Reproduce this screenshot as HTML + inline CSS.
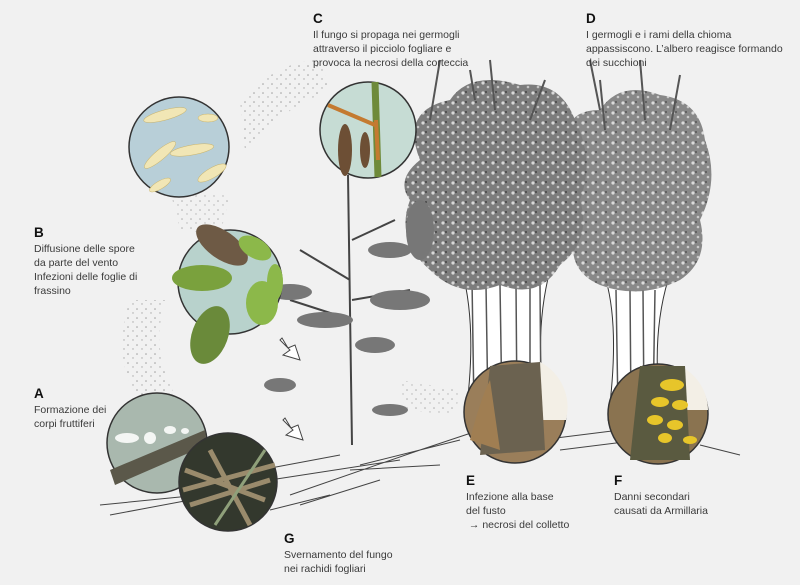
<!DOCTYPE html>
<html><head><meta charset="utf-8"><style>
body{margin:0;background:#f1f1f1;}
.w{position:relative;width:800px;height:585px;overflow:hidden;background:#f1f1f1;font-family:"Liberation Sans",sans-serif;color:#3a3a3a}
.t{position:absolute;font-size:10.5px;line-height:14px}
.t b{display:block;font-size:13.5px;color:#111;line-height:18px}
svg{position:absolute;left:0;top:0}
</style></head><body><div class="w">
<svg width="800" height="585" viewBox="0 0 800 585">
<defs>
<pattern id="dots" width="9" height="9" patternUnits="userSpaceOnUse"><circle cx="2" cy="3" r="0.8" fill="#666"/><circle cx="7" cy="7" r="0.7" fill="#777"/></pattern>
<pattern id="leafy" width="10" height="10" patternUnits="userSpaceOnUse"><rect width="10" height="10" fill="#7c7c7c"/><circle cx="3" cy="3" r="1.6" fill="#d8d8d8"/><circle cx="8" cy="7" r="1.3" fill="#c4c4c4"/><circle cx="6" cy="2" r="1" fill="#444"/></pattern>
</defs>
<path d="M240 100 Q280 60 320 60 L330 90 Q280 110 245 150Z" fill="url(#dots)" opacity=".6"/>
<path d="M130 300 Q110 360 140 400 L175 395 Q150 350 165 300Z" fill="url(#dots)" opacity=".6"/>
<path d="M170 190 L230 195 L220 235 L180 230Z" fill="url(#dots)" opacity=".5"/>
<path d="M400 380 L460 390 L455 415 L405 410Z" fill="url(#dots)" opacity=".5"/>
<g stroke="#444" stroke-width="1" fill="none">
<path d="M100 505 L200 495 M110 515 L190 500 M260 470 L340 455 M270 480 L400 460 M290 495 L420 450 M300 505 L380 480 M360 465 L460 440 M420 450 L480 430 M540 440 L620 430 M560 450 L640 440 M700 445 L740 455 M270 510 L330 495 M350 470 L440 465"/>
</g>
<!-- tree 1 -->
<path d="M465 420 Q478 330 462 270 L550 270 Q532 340 548 420Z" fill="#fff" stroke="#333"/>
<path d="M472 280 L474 410 M486 285 L488 412 M500 285 L502 410 M516 285 L517 410 M530 285 L530 412 M540 285 L541 410" stroke="#555" stroke-width="1.5"/>
<path d="M420 160 Q400 110 450 100 Q470 70 520 85 Q560 80 575 120 Q595 160 580 200 Q592 240 560 265 Q540 300 500 285 Q460 300 430 270 Q395 240 410 200 Q395 180 420 160Z" fill="url(#leafy)"/>
<path d="M430 120 L440 60 M490 60 L495 110 M545 80 L530 120 M470 70 L475 100" stroke="#555" stroke-width="2"/>
<!-- tree 2 -->
<path d="M608 420 Q620 330 606 280 L668 280 Q650 340 662 420Z" fill="#fff" stroke="#333"/>
<path d="M616 290 L618 410 M630 290 L631 412 M643 290 L644 410 M655 290 L653 412" stroke="#555" stroke-width="1.5"/>
<path d="M570 150 Q560 110 600 110 Q620 80 660 95 Q700 100 705 140 Q720 180 700 220 Q710 260 680 280 Q640 300 600 285 Q565 270 575 230 Q555 190 570 150Z" fill="url(#leafy)" opacity=".9"/>
<path d="M600 80 L605 130 M640 60 L645 120 M680 75 L670 130 M590 60 L600 110" stroke="#555" stroke-width="2"/>
<!-- sapling -->
<path d="M348 175 L352 445 M350 280 L300 250 M352 320 L290 300 M352 240 L395 220 M352 300 L410 290" stroke="#444" stroke-width="2" fill="none"/>
<g fill="#777">
<ellipse cx="325" cy="320" rx="28" ry="8"/><ellipse cx="290" cy="292" rx="22" ry="8"/><ellipse cx="400" cy="300" rx="30" ry="10"/>
<ellipse cx="390" cy="250" rx="22" ry="8"/><ellipse cx="375" cy="345" rx="20" ry="8"/><ellipse cx="390" cy="410" rx="18" ry="6"/>
<ellipse cx="280" cy="385" rx="16" ry="7"/><ellipse cx="420" cy="230" rx="14" ry="30"/>
</g>
<path d="M280 340 L290 350 L283 355 L300 360 L295 345 L288 348 L282 338Z" fill="#fff" stroke="#444"/>
<path d="M283 420 L293 430 L286 435 L303 440 L298 425 L291 428 L285 418Z" fill="#fff" stroke="#444"/>
<!-- circles -->
<circle cx="179" cy="147" r="50" fill="#b8cfd8" stroke="#333" stroke-width="1.5"/>
<g fill="#f1e6b5" stroke="#c9b36a" stroke-width=".5">
<ellipse cx="165" cy="115" rx="22" ry="5" transform="rotate(-15 165 115)"/>
<ellipse cx="208" cy="118" rx="10" ry="4"/>
<ellipse cx="160" cy="155" rx="20" ry="5" transform="rotate(-40 160 155)"/>
<ellipse cx="192" cy="150" rx="22" ry="5" transform="rotate(-10 192 150)"/>
<ellipse cx="212" cy="173" rx="16" ry="5" transform="rotate(-30 212 173)"/>
<ellipse cx="160" cy="185" rx="12" ry="4" transform="rotate(-30 160 185)"/>
</g>
<circle cx="230" cy="282" r="52" fill="#b8d2cc" stroke="#333" stroke-width="1.5"/>
<g>
<ellipse cx="222" cy="245" rx="30" ry="14" fill="#6e5a45" transform="rotate(35 222 245)"/>
<ellipse cx="202" cy="278" rx="30" ry="13" fill="#7aa13d"/>
<ellipse cx="255" cy="248" rx="18" ry="10" fill="#8cb84a" transform="rotate(30 255 248)"/>
<ellipse cx="262" cy="303" rx="16" ry="22" fill="#8cb84a"/>
<ellipse cx="210" cy="335" rx="18" ry="30" fill="#6a8a3a" transform="rotate(20 210 335)"/>
<ellipse cx="275" cy="282" rx="8" ry="18" fill="#8cb84a"/>
</g>
<circle cx="368" cy="130" r="48" fill="#c6dcd4" stroke="#333" stroke-width="1.5"/>
<path d="M375 82 L378 177" stroke="#6e8a3a" stroke-width="7"/>
<path d="M328 105 L375 125" stroke="#c47a30" stroke-width="4"/>
<path d="M376 120 L378 160" stroke="#c47a30" stroke-width="4"/>
<ellipse cx="345" cy="150" rx="7" ry="26" fill="#6d4f35"/>
<ellipse cx="365" cy="150" rx="5" ry="18" fill="#6d4f35"/>
<circle cx="157" cy="443" r="50" fill="#a9b8ae" stroke="#333" stroke-width="1.5"/>
<path d="M110 470 L205 430 L207 445 L115 485Z" fill="#5b584a"/>
<g fill="#f4f6f4"><ellipse cx="127" cy="438" rx="12" ry="5"/><ellipse cx="150" cy="438" rx="6" ry="6"/><ellipse cx="170" cy="430" rx="6" ry="4"/><ellipse cx="185" cy="431" rx="4" ry="3"/></g>
<circle cx="228" cy="482" r="49" fill="#33382d" stroke="#333" stroke-width="1.5"/>
<g stroke="#9a8b6c" stroke-width="5"><path d="M183 490 L275 465 M190 505 L270 480 M210 450 L250 525 M185 470 L265 500"/></g>
<path d="M215 525 L265 450" stroke="#8fa07a" stroke-width="3"/>
<circle cx="515" cy="412" r="51" fill="#9a7e5a" stroke="#333" stroke-width="1.5"/>
<path d="M540 362 A51 51 0 0 1 566 420 L540 420Z" fill="#f3efe6"/>
<path d="M490 366 L540 362 L545 450 L480 455Z" fill="#6b6250"/>
<path d="M470 440 Q480 400 490 380 L500 450Z" fill="#a07e52"/>
<circle cx="658" cy="414" r="50" fill="#8a7350" stroke="#333" stroke-width="1.5"/>
<path d="M680 366 A50 50 0 0 1 708 410 L680 410Z" fill="#f3efe6"/>
<path d="M640 366 L685 366 L690 460 L630 460Z" fill="#5a5a40"/>
<g fill="#e7c52a"><ellipse cx="672" cy="385" rx="12" ry="6"/><ellipse cx="660" cy="402" rx="9" ry="5"/><ellipse cx="680" cy="405" rx="8" ry="5"/><ellipse cx="655" cy="420" rx="8" ry="5"/><ellipse cx="675" cy="425" rx="8" ry="5"/><ellipse cx="665" cy="438" rx="7" ry="5"/><ellipse cx="690" cy="440" rx="7" ry="4"/></g>
</svg>
<div class="t" style="left:313px;top:10px"><b>C</b>Il fungo si propaga nei germogli<br>attraverso il picciolo fogliare e<br>provoca la necrosi della corteccia</div>
<div class="t" style="left:586px;top:10px"><b>D</b>I germogli e i rami della chioma<br>appassiscono. L’albero reagisce formando<br>dei succhioni</div>
<div class="t" style="left:34px;top:224px"><b>B</b>Diffusione delle spore<br>da parte del vento<br>Infezioni delle foglie di<br>frassino</div>
<div class="t" style="left:34px;top:385px"><b>A</b>Formazione dei<br>corpi fruttiferi</div>
<div class="t" style="left:466px;top:472px"><b>E</b>Infezione alla base<br>del fusto<br>&nbsp;→ necrosi del colletto</div>
<div class="t" style="left:614px;top:472px"><b>F</b>Danni secondari<br>causati da Armillaria</div>
<div class="t" style="left:284px;top:530px"><b>G</b>Svernamento del fungo<br>nei rachidi fogliari</div>
</div></body></html>
